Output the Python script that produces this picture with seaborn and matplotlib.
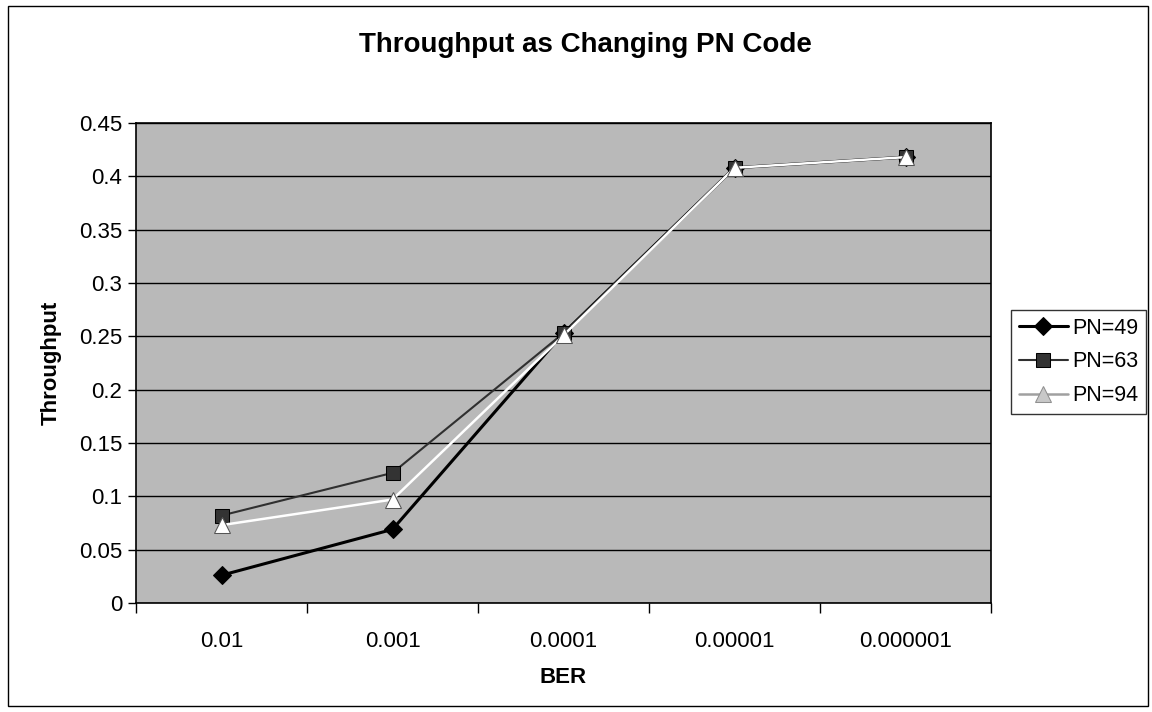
import matplotlib
matplotlib.use("Agg")
import matplotlib.pyplot as plt
import seaborn as sns
import numpy as np
import pandas as pd
from matplotlib.patches import Rectangle

sns.set_theme(style="white")
plt.rcParams['font.family'] = ['Liberation Sans', 'DejaVu Sans']
plt.rcParams.update({"text.color": "black", "axes.labelcolor": "black",
                     "xtick.color": "black", "ytick.color": "black"})

categories = ["0.01", "0.001", "0.0001", "0.00001", "0.000001"]
pn49 = [0.026, 0.069, 0.253, 0.408, 0.418]
pn63 = [0.082, 0.122, 0.253, 0.408, 0.418]
pn94 = [0.073, 0.097, 0.251, 0.408, 0.418]
series_names = ["PN=49", "PN=63", "PN=94"]
y_ticks = [0, 0.05, 0.1, 0.15, 0.2, 0.25, 0.3, 0.35, 0.4, 0.45]
y_ticklabels = ["0", "0.05", "0.1", "0.15", "0.2", "0.25", "0.3", "0.35", "0.4", "0.45"]

fig = plt.figure(figsize=(11.52, 7.12), dpi=100)
ax = fig.add_axes([136/1152, 1 - 603/712, (991 - 136)/1152, (603 - 123)/712])
ax.set_facecolor("#b9b9b9")

pos = np.arange(len(categories))
styles = [
    dict(color="black", marker="D", markersize=9, markerfacecolor="black",
         markeredgecolor="black", linewidth=2.2),
    dict(color="#303030", marker="s", markersize=10, markerfacecolor="#333333",
         markeredgecolor="black", linewidth=1.5),
    dict(color="white", marker="^", markersize=11, markerfacecolor="white",
         markeredgecolor="#555555", linewidth=1.8),
]
for name, vals, st in zip(series_names, [pn49, pn63, pn94], styles):
    df = pd.DataFrame({"x": pos, "y": vals})
    sns.lineplot(data=df, x="x", y="y", ax=ax, label=name, zorder=3, **st)

ax.set_xlim(-0.5, len(categories) - 0.5)
ax.set_ylim(0, 0.45)
ax.set_yticks(y_ticks)
ax.set_yticklabels(y_ticklabels)
ax.yaxis.grid(True, color="black", linewidth=1.0)
ax.set_axisbelow(True)
ax.set_xticks(pos)
ax.set_xticklabels(categories)
ax.set_xticks(np.arange(-0.5, len(categories), 1.0), minor=True)
ax.tick_params(axis="x", which="major", length=0, pad=20, labelsize=16)
ax.tick_params(axis="x", which="minor", length=7, width=1, color="black", direction="out", bottom=True)
ax.tick_params(axis="y", which="major", length=6, width=1, color="black", direction="out", left=True, labelsize=16, pad=4)
for s in ax.spines.values():
    s.set_color("black")
    s.set_linewidth(1.2)

ax.set_xlabel("BER", fontsize=16, fontweight="bold", labelpad=11)
ax.set_ylabel("Throughput", fontsize=16, fontweight="bold", labelpad=12)
fig.text(585/1152, 1 - 45/712, "Throughput as Changing PN Code", ha="center", va="center",
         fontsize=20, fontweight="bold")

leg = ax.legend(loc="upper left", bbox_to_anchor=(1011/1152, 1 - 310/712),
                bbox_transform=fig.transFigure, frameon=True, fancybox=False,
                fontsize=15.5, handlelength=2.3, borderpad=0.35, labelspacing=0.6,
                handletextpad=0.2, borderaxespad=0.0)
leg.get_frame().set_edgecolor("black")
leg.get_frame().set_linewidth(1.0)
h94 = leg.legend_handles[2]
h94.set_color("#a0a0a0")
h94.set_markerfacecolor("#c8c8c8")
h94.set_markeredgecolor("#909090")

fig.patches.append(Rectangle((8/1152, 6/712), (1148 - 8)/1152, (706 - 6)/712,
                             transform=fig.transFigure, fill=False, edgecolor="black",
                             linewidth=1.0))

fig.savefig("out.png", dpi=100, facecolor="white")
